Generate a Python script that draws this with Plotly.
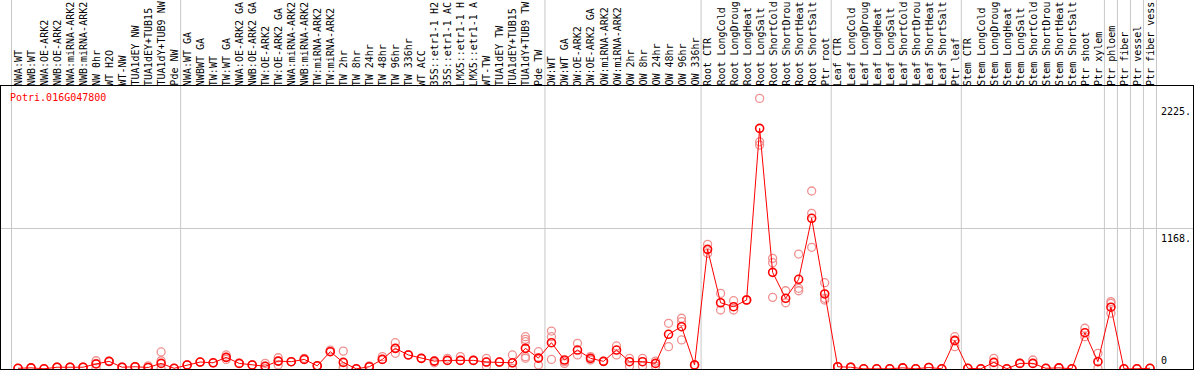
import plotly.graph_objects as go

gene = "Potri.016G047800"

labels = [
    "NWA:WT", "NWB:WT", "NWA:OE-ARK2", "NWB:OE-ARK2", "NWA:miRNA-ARK2", "NWB:miRNA-ARK2",
    "NW 0hr", "WT H2O", "WT-NW", "TUA1dEY NW", "TUA1dEY+TUB15 NW", "TUA1dY+TUB9 NW", "Pde NW",
    "NWA:WT GA", "NWBWT GA", "TW:WT", "TW:WT GA", "NWA:OE-ARK2 GA", "NWB:OE-ARK2 GA",
    "TW:OE-ARK2", "TW:OE-ARK2 GA", "NWA:miRNA-ARK2 GA", "NWB:miRNA-ARK2 GA", "TW:miRNA-ARK2",
    "TW:miRNA-ARK2 GA", "TW 2hr", "TW 8hr", "TW 24hr", "TW 48hr", "TW 96hr", "TW 336hr",
    "WT ACC", "35S::etr1-1 H2O", "35S::etr1-1 ACC", "LMX5::etr1-1 H2O", "LMX5::etr1-1 ACC",
    "WT-TW", "TUA1dEY TW", "TUA1dEY+TUB15 TW", "TUA1dY+TUB9 TW", "Pde TW",
    "OW:WT", "OW:WT GA", "OW:OE-ARK2", "OW:OE-ARK2 GA", "OW:miRNA-ARK2", "OW:miRNA-ARK2 GA",
    "OW 2hr", "OW 8hr", "OW 24hr", "OW 48hr", "OW 96hr", "OW 336hr",
    "Root CTR", "Root LongCold", "Root LongDrought", "Root LongHeat", "Root LongSalt",
    "Root ShortCold", "Root ShortDrought", "Root ShortHeat", "Root ShortSalt", "Ptr root",
    "Leaf CTR", "Leaf LongCold", "Leaf LongDrought", "Leaf LongHeat", "Leaf LongSalt",
    "Leaf ShortCold", "Leaf ShortDrought", "Leaf ShortHeat", "Leaf ShortSalt", "Ptr leaf",
    "Stem CTR", "Stem LongCold", "Stem LongDrought", "Stem LongHeat", "Stem LongSalt",
    "Stem ShortCold", "Stem ShortDrought", "Stem ShortHeat", "Stem ShortSalt", "Ptr shoot",
    "Ptr xylem", "Ptr phloem", "Ptr fiber", "Ptr vessel", "Ptr fiber vessel",
]

means = [
    4, 8, 0, 13, 13, 13, 40, 62, 13, 17, 11, 45, 4,
    32, 56, 50, 95, 45, 32, 21, 64, 59, 78, 25, 142, 53, 0, 17, 78, 170,
    115, 87, 64, 70, 70, 70, 56, 56, 50, 170, 89,
    217, 73, 156, 87, 62, 156, 59, 59, 45, 287, 350, 32,
    993, 549, 516, 572, 1999, 802, 586, 744, 1251, 622,
    17, 13, 0, 0, 0, 8, 0, 11, 0, 234,
    4, 0, 53, 0, 45, 45, 4, 8, 0, 300, 59,
    512, 0, 0, 4,
]

replicates = [
    [4, 4], [8, 8], [0, 0], [13, 13], [13, 13], [13, 13], [67, 45, 8], [62, 62], [13, 13],
    [17, 17], [11, 25], [140, 67, 0], [4, 4],
    [32, 32], [56, 56], [50, 50], [115, 78, 95], [45, 45], [32, 32], [45, 4, 21],
    [92, 32, 64], [59, 59], [87, 78], [25, 25], [142, 156], [147, 17, 0], [0, 0],
    [25, 17], [101, 78], [217, 129, 170],
    [115, 115], [87, 87], [50, 64], [87, 70], [101, 70], [70, 70], [87, 21, 56],
    [56, 56], [115, 4, 50], [267, 245, 226, 101, 87], [142, 32, 89],
    [314, 267, 78], [59, 45], [212, 115], [101, 73], [62, 62], [190, 115],
    [21, 87], [87, 21], [64, 21], [378, 184], [420, 392, 240], [32, 32],
    [1035, 960], [627, 489], [566, 489], [572, 572], [2248, 1887, 1860],
    [918, 882, 594], [649, 549], [954, 669, 649], [1478, 1292, 1010], [716, 586, 572],
    [17, 17], [13, 13], [0, 0], [0, 0], [0, 0], [8, 8], [0, 0], [11, 11], [0, 0],
    [267, 184, 240],
    [4, 4], [0, 0], [87, 21], [0, 0], [45, 45], [73, 45], [4, 4], [8, 8], [0, 0],
    [337, 267], [129, 4],
    [559, 545, 462], [0, 0], [0, 0], [4, 4],
]

group_ends = [12, 40, 52, 62, 72, 83, 84, 85, 86]
y_labels = ["2225.", "1168.", "0"]
y_label_vals = [2225, 1168, 0]

# the chart only has room for 14 characters above the plot
MAX_CHARS = 14

x = list(range(len(labels)))
rx, ry = [], []
for i, reps in enumerate(replicates):
    for v in reps:
        rx.append(i)
        ry.append(v)

FONT = "DejaVu Sans Mono"
fig = go.Figure()
fig.add_trace(go.Scatter(
    x=rx, y=ry, mode="markers",
    marker=dict(symbol="circle-open", size=8, color="#F09090", line=dict(width=1.3, color="#F09090")),
    hoverinfo="skip", showlegend=False,
))
fig.add_trace(go.Scatter(
    x=x, y=means, mode="lines+markers",
    line=dict(color="#FF0000", width=1),
    marker=dict(symbol="circle-open", size=8, color="#FF0000", line=dict(width=1.6, color="#FF0000")),
    text=labels, hovertemplate="%{text}: %{y}<extra></extra>",
    showlegend=False,
))

shapes = []
bounds = [-0.5] + [e + 0.5 for e in group_ends] + [len(labels) - 0.5]
for b in bounds:
    shapes.append(dict(type="line", xref="x", yref="paper", x0=b, x1=b, y0=0, y1=1.4,
                       line=dict(color="#C8C8C8", width=1), layer="below"))

ann = []
for i, lab in enumerate(labels):
    ann.append(dict(x=i, xref="x", y=1, yref="paper", text=lab[:MAX_CHARS], showarrow=False,
                    textangle=-90, xanchor="center", yanchor="bottom", yshift=-2,
                    font=dict(family=FONT, size=10, color="black")))
ann.append(dict(x=0, xref="paper", y=1, yref="paper", text=gene, showarrow=False,
                xanchor="left", yanchor="top", xshift=7, yshift=-4,
                font=dict(family=FONT, size=10, color="#FF0000")))
for t, v in zip(y_labels, y_label_vals):
    ann.append(dict(x=1, xref="paper", y=v, yref="y", text=t, showarrow=False,
                    xanchor="left", yanchor="top" if v > 0 else "bottom",
                    xshift=-34, yshift=-3 if v > 0 else 1,
                    font=dict(family=FONT, size=10, color="black")))

fig.update_layout(
    width=1194, height=370,
    margin=dict(l=1, r=1, t=86, b=1, pad=0),
    paper_bgcolor="white", plot_bgcolor="rgba(0,0,0,0)",
    xaxis=dict(range=[-1.3066, 90.308], showgrid=False, zeroline=False, showticklabels=False,
               ticks="", showline=True, mirror=True, linecolor="black", linewidth=1),
    yaxis=dict(range=[-1.7, 2351], tickvals=[1168], showticklabels=False, ticks="",
               showgrid=True, gridcolor="#C8C8C8", gridwidth=1, zeroline=False,
               showline=True, mirror=True, linecolor="black", linewidth=1),
    shapes=shapes, annotations=ann,
)
fig.write_html("out.html", config={"displayModeBar": False},
               post_script="document.body.style.margin='0';document.body.style.padding='0';document.body.style.overflow='hidden';")
